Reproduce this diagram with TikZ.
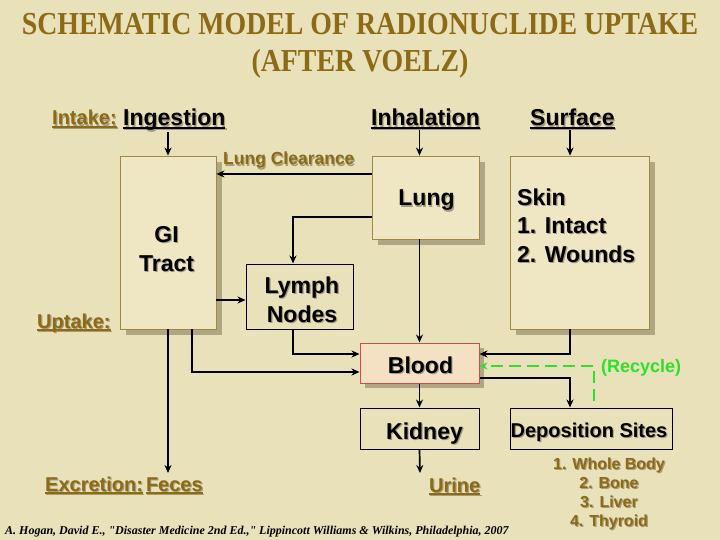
\documentclass[tikz,border=0pt]{standalone}
\usepackage{fontspec}
\usepackage{graphicx}
\setmainfont{Liberation Serif}
\newfontfamily\arialf{Liberation Sans}
\newfontfamily\citef{Liberation Serif}
\usetikzlibrary{arrows.meta,shadows}
\definecolor{bgc}{HTML}{E8E1BA}
\definecolor{boxc}{HTML}{EFE7C3}
\definecolor{boxline}{HTML}{A0893C}
\definecolor{shadc}{HTML}{B1A683}
\definecolor{tshc}{HTML}{A59C7C}
\definecolor{brownc}{HTML}{8C6A16}
\definecolor{bloodc}{HTML}{F4E0C2}
\definecolor{bloodline}{HTML}{D24A4A}
\definecolor{greenc}{HTML}{2CE02C}
\newcommand\shT[1]{\setbox0\hbox{#1}\rlap{\color{tshc}\kern1.2pt\lower1.2pt\copy0}\box0}
\newcommand\shU[1]{\setbox0\hbox{#1}\rlap{\color{tshc}\kern1.2pt\lower1.2pt\hbox{\copy0\kern-\wd0\rule[-2.6pt]{\wd0}{1.3pt}}}\copy0\kern-\wd0\rule[-2.6pt]{\wd0}{1.3pt}}
\tikzset{
  box/.style={draw=boxline, line width=0.8pt, fill=boxc, inner sep=0pt,
    general shadow={fill=shadc, shadow xshift=6pt, shadow yshift=-6pt}},
  plainbox/.style={draw=black, line width=1pt, fill=bgc, inner sep=0pt},
  bloodbox/.style={draw=bloodline, line width=1pt, fill=bloodc, inner sep=0pt,
    general shadow={fill=shadc, shadow xshift=5pt, shadow yshift=-5pt}},
  mainlbl/.style={font=\arialf\bfseries\fontsize{23}{28.5}\selectfont, inner sep=0pt},
  sublbl/.style={font=\arialf\bfseries\fontsize{20}{24}\selectfont, text=brownc, inner sep=0pt},
  ln/.style={line width=1.7pt},
  arr/.style={line width=1.7pt, -{Stealth[length=8pt,width=7pt]}},
  recyc/.style={line width=1.4pt, draw=greenc, dash pattern=on 12pt off 6pt, -{Stealth[length=8pt,width=7pt,fill=greenc]}}
}
\begin{document}
\begin{tikzpicture}[x=1pt,y=-1pt]
\useasboundingbox[fill=bgc] (0,0) rectangle (720,540);
% title
\node[font=\bfseries\fontsize{32}{37}\selectfont, text=brownc, align=center, anchor=base, inner sep=0pt] (title) at (360,72) {\scalebox{0.87}[1]{SCHEMATIC MODEL OF RADIONUCLIDE UPTAKE}\\\scalebox{0.87}[1]{(AFTER VOELZ)}};
% top labels
\node[sublbl, anchor=base west] (intake) at (52,125) {\shU{Intake:}};
\node[mainlbl, anchor=base west] (ing) at (123,126) {\shU{Ingestion}};
\node[mainlbl, anchor=base west] (inh) at (371,126) {\shU{Inhalation}};
\node[mainlbl, anchor=base west] (surf) at (530,126) {\shU{Surface}};
\node[font=\arialf\bfseries\fontsize{17.5}{20}\selectfont, text=brownc, inner sep=0pt, anchor=base west] (lclab) at (223,165) {\shT{Lung Clearance}};
% boxes
\node[box, minimum width=96pt, minimum height=173pt] (gi) at (168,242.5) {};
\node[box, minimum width=107pt, minimum height=83pt] (lung) at (425.5,197.5) {};
\node[box, minimum width=139pt, minimum height=173pt] (skin) at (579.5,242.5) {};
\node[plainbox, minimum width=107pt, minimum height=65pt] (lymph) at (299.5,296.5) {};
\node[bloodbox, minimum width=119pt, minimum height=40pt] (blood) at (419.5,363) {};
\node[plainbox, minimum width=119pt, minimum height=41pt] (kidney) at (419.5,428.5) {};
\node[plainbox, minimum width=162pt, minimum height=41pt] (dep) at (591,428.5) {};
% box texts
\node[mainlbl, align=center, anchor=base] (gitext) at (166.5,271) {\shT{GI}\\\shT{Tract}};
\node[mainlbl, anchor=base] (lungtext) at (426.5,206) {\shT{Lung}};
\node[mainlbl, align=left, anchor=base west] (skintext) at (517,262) {\shT{Skin}\\\shT{1. Intact}\\\shT{2. Wounds}};
\node[mainlbl, align=center, anchor=base] (lymphtext) at (302,322) {\shT{Lymph}\\\shT{Nodes}};
\node[mainlbl, anchor=base] (bloodtext) at (420.5,373) {\shT{Blood}};
\node[mainlbl, anchor=base] (kidneytext) at (424.5,439) {\shT{Kidney}};
\node[font=\arialf\bfseries\fontsize{20}{24}\selectfont, inner sep=0pt, anchor=base] (deptext) at (589,437) {\shT{Deposition Sites}};
% other labels
\node[sublbl, anchor=base west] (uptake) at (37,328) {\shU{Uptake:}};
\node[sublbl, anchor=base west] (excr) at (45,491) {\shU{Excretion:}\kern3pt\shU{Feces}};
\node[sublbl, anchor=base west] (urine) at (429,492) {\shU{Urine}};
\node[font=\arialf\bfseries\fontsize{18}{22}\selectfont, text=greenc, inner sep=0pt, anchor=base west] (recl) at (601,372) {(Recycle)};
\node[font=\arialf\bfseries\fontsize{16}{19}\selectfont, text=brownc, inner sep=0pt, align=center, anchor=base] (deplist) at (609,526) {\shT{1. Whole Body}\\\shT{2. Bone}\\\shT{3. Liver}\\\shT{4. Thyroid}};
\node[font=\citef\bfseries\itshape\fontsize{12}{14}\selectfont, inner sep=0pt, anchor=base west] (cite) at (5,534) {A. Hogan, David E., "Disaster Medicine 2nd Ed.," Lippincott Williams \& Wilkins, Philadelphia, 2007};
% helper coordinates
\coordinate (yLC) at (0,174);
\coordinate (lyb) at (293,217);
\coordinate (yGL) at (0,300);
\coordinate (b1) at (293,354);
\coordinate (b2) at (192,372);
\coordinate (colS) at (570,354);
\coordinate (b3) at (570,378);
\coordinate (rc) at (594,401);
\coordinate (rk) at (594,366);
\coordinate (fe) at (168,473);
\coordinate (ue) at (420,473);
% connectors
\draw[arr] (gi.north |- ing.south) -- (gi.north);
\draw[arr] (blood.north |- inh.south) -- (blood.north |- lung.north);
\draw[arr] (colS |- surf.south) -- (colS |- skin.north);
\draw[arr] (lung.west |- yLC) -- (gi.east |- yLC);
\draw[arr] (lung.west |- lyb) -- (lyb) -- (lyb |- lymph.north);
\draw[arr] (gi.east |- yGL) -- (lymph.west |- yGL);
\draw[arr] (lyb |- lymph.south) -- (b1) -- (blood.west |- b1);
\draw[arr] (b2 |- gi.south) -- (b2) -- (blood.west |- b2);
\draw[arr] (colS |- skin.south) -- (colS) -- (blood.east |- colS);
\draw[arr] (blood.north |- lung.south) -- (blood.north);
\draw[arr] (blood.east |- b3) -- (b3) -- (b3 |- dep.north);
\draw[recyc] (rc) -- (rk) -- (blood.east |- rk);
\draw[arr] (blood.south) -- (kidney.north);
\draw[arr] (kidney.south) -- (ue);
\draw[arr] (gi.south) -- (fe);
\end{tikzpicture}
\end{document}
